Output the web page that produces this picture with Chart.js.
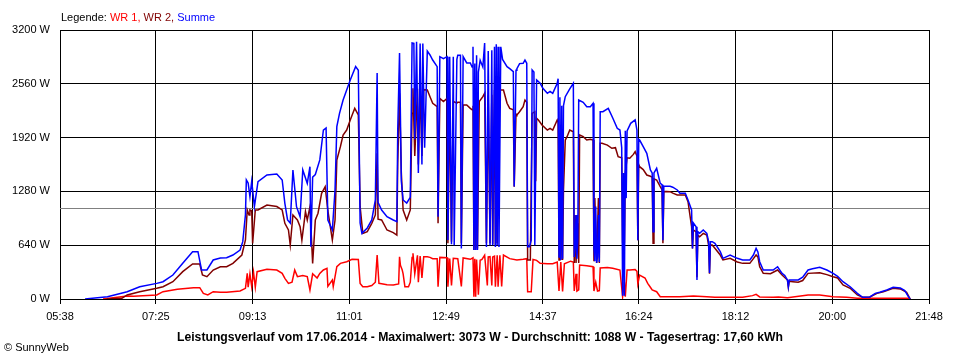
<!DOCTYPE html>
<html>
<head>
<meta charset="utf-8">
<script src="https://cdn.jsdelivr.net/npm/chart.js@4.4.1/dist/chart.umd.min.js"></script>
<style>
  html, body { margin: 0; padding: 0; background: #fff; }
  #wrap { position: relative; width: 960px; height: 360px; font-family: "Liberation Sans", Arial, sans-serif; font-size: 11px; }
  #wrap canvas { position: absolute; left: 0; top: 0; }
  .txt { position: absolute; white-space: nowrap; line-height: 13px; }
  #legend { left: 61px; top: 11px; color: #000; }
  #title { left: 0; width: 960px; text-align: center; top: 330px; font-weight: bold; font-size: 12.2px; line-height: 14px; }
  #copy { left: 4px; top: 341px; }
</style>
</head>
<body>
<div id="wrap">
  <canvas id="c" width="960" height="360"></canvas>
  <div id="legend" class="txt">Legende: <span style="color:#ff0000">WR 1,</span> <span style="color:#800000">WR 2,</span> <span style="color:#0000ff">Summe</span></div>
  <div id="title" class="txt">Leistungsverlauf vom 17.06.2014 - Maximalwert: 3073 W - Durchschnitt: 1088 W - Tagesertrag: 17,60 kWh</div>
  <div id="copy" class="txt">&copy; SunnyWeb</div>
</div>
<script>
// Time axis tick labels (HH:MM)
const tickLabels = ["05:38", "07:25", "09:13", "11:01", "12:49", "14:37", "16:24", "18:12", "20:00", "21:48"];
// Y axis
const yMax = 3200;
const yStep = 640;
// Daily average (grey reference line), W
const averageW = 1088;

// Series: [minutes since midnight, watts]
const summe = [[366,0],[391,27],[413,87],[427,146],[446,186],[453,206],[464,285],[475,425],[486,563],[492,563],[496,345],[502,345],[509,464],[517,488],[524,490],[531,523],[539,583],[542,682],[545,1000],[546,1416],[548,1380],[550,1217],[552,1400],[555,1098],[559,1396],[569,1475],[580,1487],[586,1416],[589,1138],[592,940],[595,904],[598,1535],[602,1098],[606,979],[609,1535],[614,1376],[617,1574],[618,622],[620,1450],[623,1480],[628,1654],[632,2010],[635,2034],[637,940],[642,821],[645,1297],[647,2050],[650,2209],[654,2367],[658,2486],[662,2605],[665,2685],[668,2764],[671,2720],[673,904],[675,781],[681,845],[686,940],[690,1178],[692,2689],[693,1150],[697,1059],[703,979],[710,940],[714,920],[715,2010],[717,2926],[719,1400],[721,1178],[725,1142],[729,1210],[731,3045],[733,3040],[734,1900],[736,3061],[738,1500],[740,3040],[742,1600],[743,3040],[745,1800],[748,2950],[751,2903],[754,2843],[759,2764],[760,979],[762,2883],[766,2860],[770,2883],[771,702],[773,2883],[775,650],[777,2883],[778,640],[781,2850],[782,2900],[785,2900],[786,600],[788,2883],[792,2808],[796,2808],[798,2760],[799,3001],[800,583],[801,2800],[802,583],[803,2900],[804,583],[805,2700],[807,2840],[810,2760],[812,3045],[814,620],[816,2950],[818,640],[820,2960],[821,640],[823,3000],[824,620],[825,3030],[826,640],[827,3000],[828,620],[830,3000],[832,2850],[837,2764],[840,2740],[844,2704],[845,1338],[847,2720],[848,2740],[851,2800],[855,2804],[857,2843],[859,2804],[860,622],[862,622],[864,700],[865,2724],[867,2700],[868,640],[870,2605],[874,2566],[877,2506],[882,2447],[885,2470],[888,2447],[893,2566],[894,2620],[895,500],[896,2400],[897,464],[898,2300],[899,480],[900,2300],[902,2407],[907,2500],[911,2566],[912,500],[913,600],[914,1000],[915,480],[916,700],[917,2367],[922,2340],[926,2288],[930,2288],[933,2328],[934,600],[935,450],[936,1100],[937,430],[938,500],[939,1000],[940,440],[941,2228],[944,2228],[950,2268],[955,2153],[960,2030],[963,2010],[965,1800],[966,40],[967,1500],[968,40],[969,2000],[970,1200],[971,2000],[975,2090],[980,2130],[982,2010],[983,700],[984,1900],[985,1891],[989,1812],[993,1733],[997,1535],[999,1500],[1000,800],[1001,1500],[1004,1555],[1008,1376],[1010,1360],[1011,700],[1012,1340],[1019,1340],[1022,1330],[1027,1297],[1030,1257],[1036,1257],[1039,1178],[1043,1059],[1044,600],[1045,904],[1048,860],[1049,226],[1050,800],[1052,781],[1056,821],[1060,781],[1062,682],[1063,309],[1064,682],[1066,682],[1069,662],[1075,563],[1078,484],[1086,523],[1094,484],[1100,464],[1108,464],[1112,523],[1115,603],[1117,560],[1119,444],[1123,345],[1128,345],[1134,345],[1139,384],[1144,305],[1147,280],[1150,226],[1151,146],[1152,226],[1156,226],[1162,226],[1167,260],[1173,345],[1178,360],[1186,377],[1194,345],[1201,305],[1206,270],[1212,206],[1220,146],[1228,67],[1234,20],[1242,25],[1248,67],[1253,80],[1261,107],[1268,139],[1276,130],[1281,100],[1285,28],[1287,0]];

const wr1 = [[386,0],[413,36],[420,32],[446,48],[453,87],[469,115],[487,135],[494,135],[498,67],[503,48],[509,87],[517,79],[524,79],[539,95],[545,127],[547,305],[548,140],[550,300],[552,146],[554,320],[556,140],[558,325],[569,353],[580,345],[586,305],[589,246],[593,186],[597,200],[600,345],[603,266],[609,280],[614,266],[617,107],[620,300],[625,250],[628,305],[632,345],[636,365],[637,150],[642,226],[643,146],[647,384],[651,424],[658,444],[664,472],[671,470],[673,186],[676,146],[681,146],[686,160],[690,200],[692,523],[694,186],[697,182],[703,170],[710,167],[716,180],[717,503],[718,400],[720,345],[721,300],[723,146],[727,146],[729,200],[731,493],[732,543],[734,300],[737,520],[738,200],[740,510],[742,250],[744,503],[748,503],[751,495],[754,480],[759,480],[760,146],[762,495],[770,490],[771,146],[773,480],[775,160],[777,485],[782,480],[786,150],[788,488],[796,472],[799,490],[800,28],[801,480],[802,28],[803,470],[805,50],[807,460],[809,470],[812,520],[815,160],[816,500],[818,503],[820,160],[821,500],[823,510],[824,146],[826,520],[827,146],[829,520],[831,150],[833,523],[840,480],[848,464],[855,472],[859,480],[860,87],[864,87],[866,470],[870,460],[874,424],[882,420],[888,420],[893,440],[895,95],[897,440],[899,90],[901,420],[908,450],[911,440],[912,95],[914,300],[915,95],[917,110],[918,404],[926,395],[933,384],[934,95],[936,200],[938,95],[940,100],[941,370],[949,376],[955,365],[963,345],[966,28],[968,200],[969,28],[971,345],[974,345],[980,350],[982,330],[983,180],[985,285],[991,250],[994,186],[997,140],[999,107],[1004,87],[1008,28],[1030,28],[1045,36],[1060,28],[1069,20],[1100,20],[1111,40],[1115,55],[1119,25],[1134,20],[1140,25],[1150,15],[1173,48],[1186,48],[1201,28],[1216,20],[1228,10],[1286,8],[1287,0]];

const wr2 = [[390,0],[407,8],[413,48],[427,87],[446,127],[453,146],[464,206],[475,325],[486,416],[494,416],[497,285],[502,265],[509,345],[517,384],[524,384],[531,424],[541,523],[545,702],[547,1059],[549,1000],[550,1059],[552,1050],[553,662],[556,1059],[559,1059],[569,1118],[580,1100],[586,1059],[589,900],[593,821],[595,642],[598,1000],[603,940],[606,860],[608,700],[612,1040],[614,940],[617,1098],[620,424],[623,940],[626,1020],[630,1257],[634,1336],[637,1050],[642,702],[645,940],[647,1654],[651,1812],[654,1951],[658,2010],[662,2129],[667,2268],[671,2189],[673,1098],[676,781],[681,801],[686,900],[690,1000],[692,1733],[693,950],[697,940],[703,821],[710,790],[714,761],[715,1614],[717,2447],[719,1500],[721,1059],[725,940],[729,1059],[731,2209],[732,2506],[734,1700],[737,2500],[738,1600],[740,2506],[742,1700],[744,2490],[748,2486],[751,2407],[754,2328],[759,2288],[760,900],[762,2387],[766,2350],[770,2387],[771,662],[773,2370],[775,680],[777,2350],[781,2330],[782,2340],[785,2340],[786,662],[788,2308],[792,2308],[796,2268],[798,2250],[799,2300],[800,583],[801,2300],[802,583],[803,2300],[804,600],[806,2350],[810,2407],[812,2447],[814,662],[816,2420],[818,662],[820,2430],[821,650],[823,2486],[824,640],[825,2486],[826,662],[828,2480],[830,2486],[833,2486],[837,2328],[840,2268],[844,2250],[845,1336],[847,2200],[848,2189],[851,2228],[855,2288],[857,2367],[859,2340],[860,464],[863,464],[865,2209],[868,2228],[869,1400],[870,2150],[872,2129],[876,2070],[882,2010],[885,2030],[888,2010],[893,2129],[894,2100],[895,464],[896,1300],[897,464],[898,1300],[899,464],[900,1300],[902,1891],[904,1931],[907,2010],[911,1990],[912,428],[913,1000],[914,428],[916,900],[917,428],[918,1951],[922,1931],[926,1891],[930,1900],[933,1891],[934,450],[935,1200],[937,428],[939,1200],[940,428],[941,1852],[943,1852],[949,1830],[954,1793],[958,1800],[961,1693],[965,1680],[966,662],[967,1200],[968,662],[969,1500],[971,1680],[974,1674],[978,1720],[980,1753],[982,1700],[983,700],[984,1600],[985,1574],[989,1540],[993,1475],[997,1460],[999,1450],[1000,662],[1001,1430],[1004,1416],[1008,1336],[1010,1300],[1011,662],[1012,1280],[1019,1277],[1022,1260],[1027,1237],[1030,1237],[1036,1237],[1039,1158],[1043,860],[1044,600],[1045,821],[1048,800],[1049,260],[1050,760],[1052,741],[1056,781],[1060,760],[1062,642],[1063,300],[1064,642],[1066,642],[1069,603],[1075,523],[1078,464],[1086,484],[1094,440],[1100,424],[1108,424],[1112,480],[1115,523],[1117,500],[1119,384],[1123,305],[1131,300],[1139,345],[1144,285],[1150,226],[1151,140],[1152,210],[1156,206],[1162,200],[1167,220],[1173,305],[1186,313],[1194,290],[1201,265],[1206,250],[1212,167],[1220,127],[1228,48],[1234,20],[1242,25],[1250,67],[1257,87],[1268,127],[1276,120],[1283,80],[1286,20],[1287,0]];

function toMin(s) { const p = s.split(":"); return (+p[0]) * 60 + (+p[1]); }
const tickMinutes = tickLabels.map(toMin);
const toPts = arr => arr.map(([t, w]) => ({ x: t, y: w }));

const avgLine = {
  id: 'avgLine',
  beforeDatasetsDraw(chart) {
    const { ctx, chartArea, scales } = chart;
    const y = Math.round(scales.y.getPixelForValue(averageW)) + 0.5;
    ctx.save();
    ctx.strokeStyle = '#808080';
    ctx.lineWidth = 1;
    ctx.beginPath();
    ctx.moveTo(chartArea.left, y);
    ctx.lineTo(chartArea.right, y);
    ctx.stroke();
    ctx.restore();
  }
};

const FONT = { family: '"Liberation Sans", Arial, sans-serif', size: 11 };

new Chart(document.getElementById('c'), {
  type: 'line',
  data: {
    datasets: [
      { label: 'Summe', data: toPts(summe), borderColor: '#0000ff', order: 0 },
      { label: 'WR 2', data: toPts(wr2), borderColor: '#800000', order: 1 },
      { label: 'WR 1', data: toPts(wr1), borderColor: '#ff0000', order: 2 }
    ]
  },
  options: {
    responsive: false,
    animation: false,
    events: [],
    layout: { padding: { top: 30, right: 31, left: 0, bottom: 0 } },
    elements: {
      line: { borderWidth: 1.5, tension: 0, fill: false, borderJoinStyle: 'miter', borderCapStyle: 'butt' },
      point: { radius: 0 }
    },
    plugins: { legend: { display: false }, title: { display: false }, tooltip: { enabled: false } },
    scales: {
      x: {
        type: 'linear',
        min: tickMinutes[0],
        max: tickMinutes[tickMinutes.length - 1],
        afterBuildTicks(scale) { scale.ticks = tickMinutes.map(v => ({ value: v })); },
        afterFit(scale) { scale.height = 61; },
        ticks: {
          autoSkip: false, maxRotation: 0, color: '#000', font: FONT, padding: 6,
          callback(v) { const i = tickMinutes.indexOf(v); return i >= 0 ? tickLabels[i] : ''; }
        },
        grid: { color: '#000', lineWidth: 1, tickLength: 5, drawTicks: true },
        border: { color: '#000', width: 1 }
      },
      y: {
        min: 0,
        max: yMax,
        afterFit(scale) { scale.width = 60; },
        ticks: { stepSize: yStep, color: '#000', font: FONT, padding: 10, callback: v => v + ' W' },
        grid: { color: '#000', lineWidth: 1, drawTicks: false },
        border: { color: '#000', width: 1 }
      }
    }
  },
  plugins: [avgLine]
});
</script>
</body>
</html>
